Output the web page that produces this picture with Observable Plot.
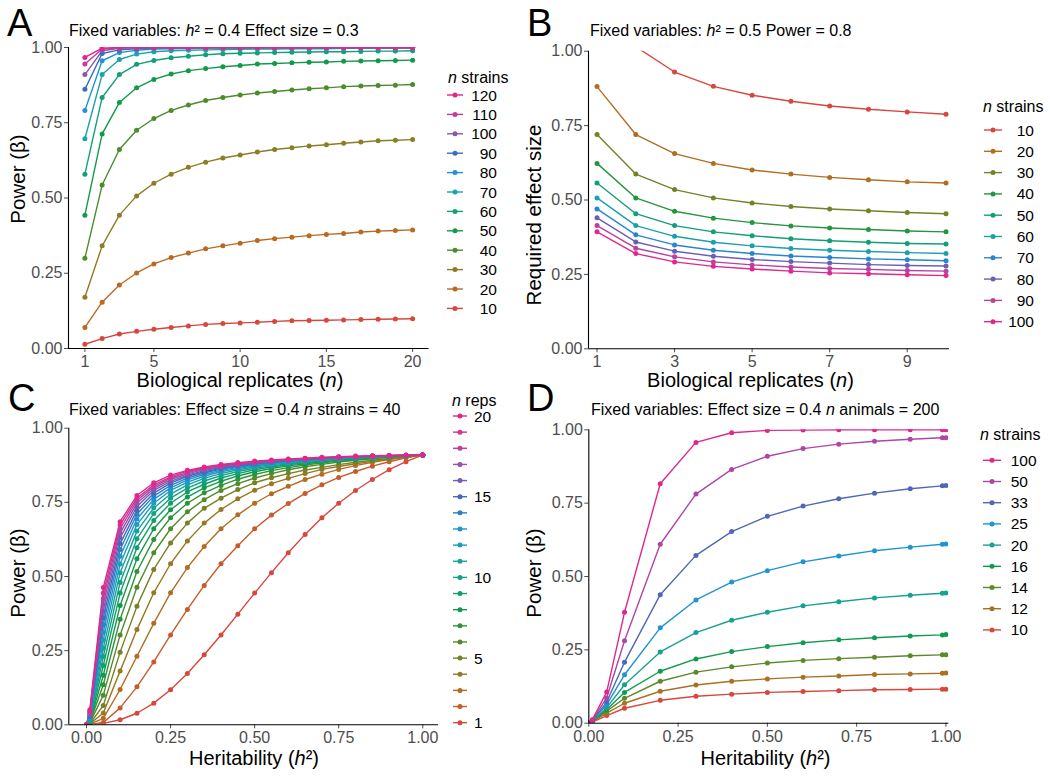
<!DOCTYPE html>
<html><head><meta charset="utf-8">
<script src="https://cdn.jsdelivr.net/npm/d3@7"></script>
<script src="https://cdn.jsdelivr.net/npm/@observablehq/plot@0.6"></script>
<style>
body{margin:0;background:#fff;}
#root{position:relative;width:1050px;height:776px;overflow:hidden;background:#fff;font-family:"Liberation Sans",Arial,sans-serif;}
</style></head><body><div id="root"></div>
<script>
// ---------- Panel A: power vs biological replicates (h2 = 0.4, effect = 0.3)
const aReps = [1,2,3,4,5,6,7,8,9,10,11,12,13,14,15,16,17,18,19,20];
const aStrains = [10,20,30,40,50,60,70,80,90,100,110,120];
const aPower = [
  [0.014,0.033,0.048,0.057,0.064,0.070,0.075,0.080,0.083,0.085,0.087,0.090,0.092,0.093,0.094,0.095,0.096,0.097,0.098,0.099],
  [0.070,0.154,0.211,0.251,0.281,0.302,0.317,0.331,0.341,0.350,0.359,0.365,0.370,0.375,0.379,0.382,0.387,0.390,0.392,0.394],
  [0.170,0.341,0.443,0.507,0.549,0.579,0.602,0.619,0.633,0.643,0.653,0.661,0.667,0.673,0.677,0.682,0.686,0.690,0.692,0.694],
  [0.300,0.543,0.661,0.725,0.764,0.791,0.809,0.824,0.834,0.842,0.849,0.854,0.859,0.863,0.866,0.870,0.872,0.874,0.875,0.877],
  [0.443,0.713,0.817,0.866,0.894,0.912,0.923,0.930,0.936,0.940,0.945,0.947,0.949,0.951,0.952,0.954,0.955,0.956,0.957,0.958],
  [0.579,0.834,0.910,0.944,0.957,0.966,0.971,0.976,0.979,0.981,0.982,0.983,0.984,0.985,0.986,0.986,0.987,0.988,0.988,0.989],
  [0.697,0.910,0.960,0.978,0.986,0.989,0.991,0.992,0.993,0.994,0.995,0.995,0.996,0.996,0.996,0.997,0.997,0.997,0.997,0.998],
  [0.791,0.956,0.983,0.991,0.995,0.996,0.997,0.998,0.998,0.998,0.999,0.999,0.999,0.999,0.999,0.999,0.999,0.999,0.999,0.999],
  [0.861,0.980,0.992,0.996,0.998,0.999,0.999,1,1,1,1,1,1,1,1,1,1,1,1,1],
  [0.910,0.989,0.997,0.999,1,1,1,1,1,1,1,1,1,1,1,1,1,1,1,1],
  [0.945,0.995,0.999,1,1,1,1,1,1,1,1,1,1,1,1,1,1,1,1,1],
  [0.967,0.998,1,1,1,1,1,1,1,1,1,1,1,1,1,1,1,1,1,1]
];
const aXTicks = [1,5,10,15,20];

// ---------- Panel B: required effect size vs replicates (h2 = 0.5, power = 0.8)
const bReps = [1,2,3,4,5,6,7,8,9,10];
const bStrains = [10,20,30,40,50,60,70,80,90,100];
const bEffect = [
  [1.250,1.015,0.930,0.882,0.852,0.832,0.816,0.805,0.796,0.788],
  [0.881,0.720,0.656,0.623,0.601,0.587,0.576,0.568,0.561,0.557],
  [0.720,0.587,0.535,0.507,0.490,0.478,0.470,0.464,0.458,0.454],
  [0.623,0.507,0.462,0.439,0.424,0.413,0.406,0.401,0.396,0.393],
  [0.557,0.454,0.414,0.393,0.380,0.370,0.363,0.358,0.354,0.352],
  [0.507,0.414,0.378,0.358,0.346,0.337,0.331,0.327,0.323,0.320],
  [0.470,0.383,0.349,0.331,0.320,0.312,0.307,0.302,0.299,0.296],
  [0.440,0.359,0.328,0.311,0.300,0.293,0.288,0.283,0.280,0.278],
  [0.414,0.338,0.309,0.292,0.282,0.275,0.270,0.267,0.263,0.261],
  [0.393,0.320,0.292,0.277,0.268,0.261,0.255,0.252,0.249,0.246]
];
const bXTicks = [1,3,5,7,9];

// ---------- Panel C: power vs heritability (effect = 0.4, 40 strains), 1..20 reps
const cH2 = [0,0.01,0.05,0.10,0.15,0.20,0.25,0.30,0.35,0.40,0.45,0.50,0.55,0.60,0.65,0.70,0.75,0.80,0.85,0.90,0.95,1.00];
const cReps = [1,2,3,4,5,6,7,8,9,10,11,12,13,14,15,16,17,18,19,20];
const cRepLabels = ["1","5","10","15","20"];
const cPower = [
  [0,0.000,0.005,0.017,0.039,0.073,0.118,0.173,0.236,0.303,0.373,0.444,0.513,0.580,0.642,0.698,0.747,0.790,0.827,0.860,0.887,0.910],
  [0,0.001,0.008,0.057,0.128,0.212,0.303,0.389,0.470,0.543,0.604,0.661,0.707,0.746,0.780,0.809,0.834,0.854,0.872,0.887,0.900,0.910],
  [0,0.002,0.022,0.119,0.231,0.342,0.445,0.530,0.601,0.661,0.708,0.747,0.779,0.804,0.827,0.845,0.861,0.874,0.885,0.894,0.902,0.910],
  [0,0.003,0.040,0.181,0.321,0.445,0.543,0.620,0.680,0.726,0.762,0.791,0.813,0.831,0.847,0.861,0.871,0.880,0.888,0.896,0.903,0.910],
  [0,0.004,0.065,0.245,0.400,0.524,0.613,0.680,0.730,0.764,0.793,0.816,0.833,0.847,0.859,0.868,0.877,0.885,0.892,0.898,0.904,0.910],
  [0,0.006,0.100,0.303,0.464,0.580,0.661,0.718,0.759,0.790,0.813,0.832,0.847,0.860,0.870,0.878,0.886,0.892,0.897,0.902,0.906,0.910],
  [0,0.008,0.135,0.356,0.517,0.625,0.698,0.747,0.782,0.807,0.828,0.844,0.857,0.867,0.876,0.883,0.889,0.894,0.899,0.903,0.907,0.910],
  [0,0.010,0.167,0.402,0.560,0.661,0.725,0.768,0.799,0.821,0.839,0.853,0.864,0.873,0.880,0.887,0.892,0.896,0.900,0.904,0.907,0.910],
  [0,0.012,0.200,0.444,0.597,0.689,0.747,0.785,0.811,0.832,0.847,0.860,0.869,0.877,0.884,0.889,0.894,0.898,0.901,0.904,0.907,0.910],
  [0,0.014,0.230,0.480,0.627,0.712,0.764,0.798,0.822,0.840,0.854,0.865,0.873,0.880,0.886,0.891,0.895,0.899,0.902,0.905,0.908,0.910],
  [0,0.016,0.258,0.513,0.653,0.731,0.778,0.809,0.831,0.847,0.860,0.869,0.877,0.883,0.888,0.893,0.897,0.900,0.903,0.906,0.908,0.910],
  [0,0.020,0.286,0.542,0.675,0.747,0.790,0.818,0.838,0.853,0.864,0.873,0.880,0.886,0.890,0.894,0.898,0.901,0.904,0.906,0.908,0.910],
  [0,0.023,0.312,0.568,0.694,0.760,0.799,0.826,0.844,0.858,0.868,0.876,0.882,0.888,0.892,0.896,0.899,0.902,0.904,0.906,0.908,0.910],
  [0,0.027,0.337,0.591,0.710,0.771,0.807,0.832,0.849,0.862,0.871,0.878,0.885,0.889,0.893,0.897,0.900,0.902,0.905,0.907,0.908,0.910],
  [0,0.030,0.361,0.611,0.723,0.781,0.815,0.838,0.853,0.865,0.873,0.880,0.886,0.891,0.894,0.897,0.900,0.903,0.905,0.907,0.908,0.910],
  [0,0.034,0.383,0.630,0.736,0.790,0.821,0.842,0.857,0.868,0.876,0.882,0.888,0.892,0.895,0.898,0.901,0.903,0.905,0.907,0.909,0.910],
  [0,0.037,0.405,0.646,0.747,0.797,0.827,0.846,0.861,0.870,0.878,0.884,0.889,0.893,0.896,0.899,0.901,0.904,0.906,0.907,0.909,0.910],
  [0,0.042,0.425,0.661,0.756,0.803,0.832,0.850,0.864,0.873,0.880,0.886,0.890,0.894,0.897,0.900,0.902,0.904,0.906,0.907,0.909,0.910],
  [0,0.046,0.444,0.674,0.764,0.809,0.836,0.855,0.866,0.875,0.881,0.887,0.891,0.895,0.898,0.900,0.903,0.905,0.906,0.907,0.909,0.910],
  [0,0.051,0.463,0.685,0.773,0.816,0.842,0.858,0.869,0.878,0.884,0.889,0.893,0.896,0.899,0.902,0.904,0.906,0.907,0.908,0.909,0.910]
];

// ---------- Panel D: power vs heritability (effect = 0.4, 200 animals)
const dH2 = [0,0.01,0.05,0.10,0.20,0.30,0.40,0.50,0.60,0.70,0.80,0.90,0.99,1.00];
const dStrains = [10,12,14,16,20,25,33,50,100];
const dPower = [
  [0,0.004,0.026,0.051,0.078,0.092,0.099,0.105,0.108,0.111,0.114,0.115,0.116,0.116],
  [0,0.005,0.034,0.068,0.109,0.130,0.143,0.151,0.157,0.161,0.166,0.168,0.170,0.171],
  [0,0.006,0.041,0.085,0.143,0.174,0.192,0.205,0.214,0.220,0.225,0.230,0.233,0.233],
  [0,0.006,0.047,0.105,0.177,0.219,0.244,0.261,0.274,0.284,0.291,0.297,0.301,0.302],
  [0,0.007,0.053,0.131,0.243,0.309,0.351,0.378,0.400,0.414,0.427,0.436,0.443,0.444],
  [0,0.008,0.063,0.165,0.325,0.420,0.481,0.520,0.550,0.570,0.588,0.600,0.610,0.611],
  [0,0.009,0.072,0.208,0.438,0.572,0.653,0.705,0.740,0.765,0.784,0.799,0.809,0.810],
  [0,0.010,0.086,0.281,0.610,0.781,0.865,0.910,0.936,0.951,0.961,0.968,0.973,0.973],
  [0,0.012,0.106,0.378,0.816,0.957,0.990,0.998,0.999,1,1,1,1,1]
];
const h2Ticks = [0,0.25,0.5,0.75,1];
const yTicks = [0,0.25,0.5,0.75,1];

// ---------- colours (style)
const anchors = ["#D8473E","#BA6A20","#8B7E25","#4C8C2C","#119A4A","#12A07A","#1AA3A8","#1F93D6","#3A6DB8","#8E55B0","#C33C9E","#E0288A"];
const ramp = d3.piecewise(d3.interpolateRgb, anchors);
const sampleColors = n => d3.range(n).map(i => ramp(i / (n - 1)));

const FONT = "'Liberation Sans', Arial, sans-serif";
const root = document.getElementById("root");

function panel(o) {
  const rows = o.labels.flatMap((s, i) => o.xs.map((x, j) => ({x, y: o.values[i][j], s: String(s)})));
  const p = Plot.plot({
    width: o.width, height: o.height,
    marginLeft: o.mL, marginRight: o.mR, marginTop: o.mT, marginBottom: o.mB,
    x: {domain: o.xDomain},
    y: {domain: [0, 1]},
    color: {type: "ordinal", domain: o.labels.map(String), range: o.colors},
    style: {fontFamily: FONT, fontSize: "16px", color: "#4d4d4d", background: "transparent", overflow: "visible"},
    marks: [
      Plot.axisX({ticks: o.xTicks, tickFormat: o.xFormat, tickSize: 4, tickPadding: 3, label: null, fontSize: 16}),
      Plot.axisY({ticks: yTicks, tickFormat: d3.format(".2f"), tickSize: 4, tickPadding: 2, label: null, fontSize: 16}),
      Plot.line(rows, {x: "x", y: "y", z: "s", stroke: "s", strokeWidth: 1.4, clip: true}),
      Plot.dot(rows, {x: "x", y: "y", fill: "s", r: 2.5, clip: true}),
      Plot.ruleY([0], {stroke: "#000", strokeWidth: 1.1}),
      Plot.ruleX([o.xDomain[0]], {stroke: "#000", strokeWidth: 1.1})
    ]
  });
  p.style.position = "absolute";
  p.style.left = o.left + "px";
  p.style.top = o.top + "px";
  root.appendChild(p);
}

const aColors = sampleColors(aStrains.length);
const bColors = sampleColors(bStrains.length);
const cColors = sampleColors(cReps.length);
const dColors = sampleColors(dStrains.length);

panel({left: 0, top: 0, width: 525, height: 390, mL: 68, mR: 96.5, mT: 47, mB: 42,
  xDomain: [0.05, 20.95], xTicks: aXTicks, xFormat: d3.format("d"),
  xs: aReps, labels: aStrains, values: aPower, colors: aColors});
panel({left: 525, top: 0, width: 525, height: 390, mL: 63, mR: 101, mT: 50.7, mB: 41.7,
  xDomain: [0.78, 10.09], xTicks: bXTicks, xFormat: d3.format("d"),
  xs: bReps, labels: bStrains, values: bEffect, colors: bColors});
panel({left: 0, top: 385, width: 525, height: 391, mL: 68.3, mR: 87, mT: 42.7, mB: 51.7,
  xDomain: [-0.0526, 1.0467], xTicks: h2Ticks, xFormat: d3.format(".2f"),
  xs: cH2, labels: cReps, values: cPower, colors: cColors});
panel({left: 525, top: 385, width: 525, height: 391, mL: 63.3, mR: 101.7, mT: 44.3, mB: 53.3,
  xDomain: [0, 1.008], xTicks: h2Ticks, xFormat: d3.format(".2f"),
  xs: dH2, labels: dStrains, values: dPower, colors: dColors});

// ---------- overlay text & legends
const ov = d3.select(root).append("svg")
  .attr("width", 1050).attr("height", 776)
  .style("position", "absolute").style("left", 0).style("top", 0)
  .style("font-family", FONT);

function rich(x, y, parts, size, opts = {}) {
  const t = ov.append("text").attr("x", x).attr("y", y)
    .attr("font-size", size).attr("fill", opts.fill || "#000")
    .attr("text-anchor", opts.anchor || "start");
  if (opts.rotate) t.attr("x", 0).attr("y", 0).attr("transform", `translate(${x},${y}) rotate(-90)`);
  for (const [s, it] of parts) {
    const sp = t.append("tspan").text(s);
    if (it) sp.attr("font-style", "italic");
  }
  return t;
}

// panel letters
rich(7, 36, [["A"]], 38);
rich(527, 36, [["B"]], 38);
rich(8, 411, [["C"]], 38);
rich(527, 411, [["D"]], 38);

// titles
rich(69, 36, [["Fixed variables: "], ["h", true], ["² = 0.4 Effect size = 0.3"]], 16);
rich(590, 36, [["Fixed variables: "], ["h", true], ["² = 0.5 Power = 0.8"]], 16);
rich(69, 415, [["Fixed variables: Effect size = 0.4 "], ["n", true], [" strains = 40"]], 16);
rich(591, 415, [["Fixed variables: Effect size = 0.4 "], ["n", true], [" animals = 200"]], 16);

// axis titles
rich(240, 387, [["Biological replicates ("], ["n", true], [")"]], 20, {anchor: "middle"});
rich(750.5, 387, [["Biological replicates ("], ["n", true], [")"]], 20, {anchor: "middle"});
rich(254, 765, [["Heritability ("], ["h", true], ["²)"]], 20, {anchor: "middle"});
rich(765.5, 765, [["Heritability ("], ["h", true], ["²)"]], 20, {anchor: "middle"});
rich(25, 179, [["Power (β)"]], 20.5, {anchor: "middle", rotate: true});
rich(541, 215, [["Required effect size"]], 20.5, {anchor: "middle", rotate: true});
rich(25, 573, [["Power (β)"]], 20.5, {anchor: "middle", rotate: true});
rich(541, 573, [["Power (β)"]], 20.5, {anchor: "middle", rotate: true});

function legend(o) {
  rich(o.titleX, o.titleY, o.title, 16);
  o.items.forEach((it, i) => {
    const y = o.y0 + i * o.step;
    ov.append("line").attr("x1", o.k0).attr("x2", o.k1).attr("y1", y).attr("y2", y)
      .attr("stroke", it.color).attr("stroke-width", 1.4);
    ov.append("circle").attr("cx", (o.k0 + o.k1) / 2).attr("cy", y).attr("r", 2.5).attr("fill", it.color);
    if (it.label) rich(o.labelX, y + 5.5, [[it.label]], 15.5, {anchor: o.anchor});
  });
}

legend({title: [["n", true], [" strains"]], titleX: 448, titleY: 83,
  items: aStrains.map((s, i) => ({label: String(s), color: aColors[i]})).reverse(),
  y0: 95, step: 19.4, k0: 447, k1: 463, labelX: 497, anchor: "end"});
legend({title: [["n", true], [" strains"]], titleX: 983, titleY: 112,
  items: bStrains.map((s, i) => ({label: String(s), color: bColors[i]})),
  y0: 130, step: 21.3, k0: 984, k1: 1002, labelX: 1034, anchor: "end"});
legend({title: [["n", true], [" reps"]], titleX: 452, titleY: 406,
  items: cReps.map((s, i) => ({label: cRepLabels.includes(String(s)) ? String(s) : "", color: cColors[i]})).reverse(),
  y0: 416, step: 16.14, k0: 453, k1: 467, labelX: 474, anchor: "start"});
legend({title: [["n", true], [" strains"]], titleX: 980, titleY: 440,
  items: dStrains.map((s, i) => ({label: String(s), color: dColors[i]})).reverse(),
  y0: 460.3, step: 21.2, k0: 983, k1: 1001, labelX: 1010.7, anchor: "start"});
</script></body></html>
